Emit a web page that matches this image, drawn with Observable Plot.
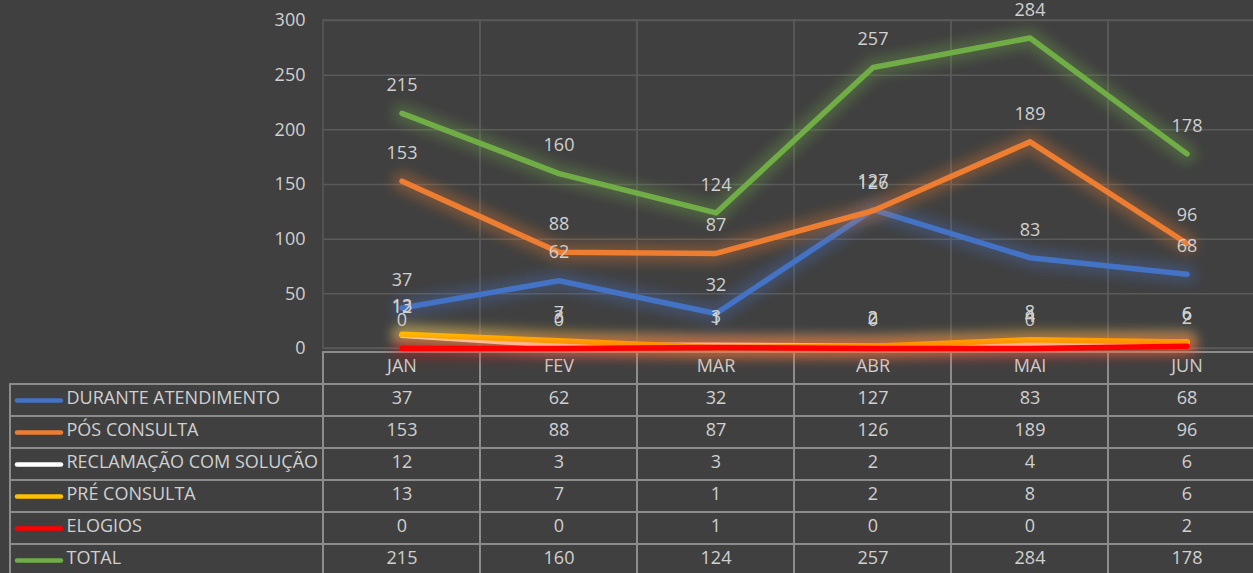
<!DOCTYPE html>
<html>
<head>
<meta charset="utf-8">
<script src="https://cdn.jsdelivr.net/npm/d3@7"></script>
<script src="https://cdn.jsdelivr.net/npm/@observablehq/plot@0.6"></script>
<style>
  html, body { margin: 0; padding: 0; background: #404040; }
  #wrap { position: relative; width: 1253px; height: 573px; overflow: hidden; background: #404040; }
  #wrap svg { position: absolute; left: 0; background: transparent; }
</style>
</head>
<body>
<div id="wrap"></div>
<script>
const months = ["JAN", "FEV", "MAR", "ABR", "MAI", "JUN"];
const seriesNames = ["DURANTE ATENDIMENTO", "PÓS CONSULTA", "RECLAMAÇÃO COM SOLUÇÃO", "PRÉ CONSULTA", "ELOGIOS", "TOTAL"];
const duranteAtendimento = [37, 62, 32, 127, 83, 68];
const posConsulta = [153, 88, 87, 126, 189, 96];
const reclamacaoComSolucao = [12, 3, 3, 2, 4, 6];
const preConsulta = [13, 7, 1, 2, 8, 6];
const elogios = [0, 0, 1, 0, 0, 2];
const total = [215, 160, 124, 257, 284, 178];
const seriesColors = ["#4472C4", "#ED7D31", "#FFFFFF", "#FFC000", "#FF0000", "#70AD47"];
const yTicks = [0, 50, 100, 150, 200, 250, 300];

const seriesValues = [duranteAtendimento, posConsulta, reclamacaoComSolucao, preConsulta, elogios, total];
const long = seriesNames.flatMap((s, i) => months.map((m, j) => ({series: s, month: m, value: seriesValues[i][j]})));

const FONT = "'Open Sans', sans-serif";
const TEXT = "#d0d0d0";
const GRID = "#5a5a5a";
const TABLE = "#8c8c8c";
const HEADER = "__header__";

const colorScale = {domain: seriesNames, range: seriesColors};
const xScale = {type: "band", domain: months, range: [323, 1265], padding: 0, axis: null};

// Chart: each series = soft halo line + solid line
const lineMarks = seriesNames.flatMap(s => {
  const d = long.filter(r => r.series === s);
  return [
    Plot.line(d, {x: "month", y: "value", stroke: "series", strokeWidth: 20, strokeOpacity: 0.3,
      strokeLinecap: "round", strokeLinejoin: "round"}),
    Plot.line(d, {x: "month", y: "value", stroke: "series", strokeWidth: 5.5,
      strokeLinecap: "round", strokeLinejoin: "round"})
  ];
});

const chart = Plot.plot({
  width: 1253, height: 362,
  marginTop: 20, marginBottom: 14, marginLeft: 323, marginRight: 0,
  style: {background: "transparent", color: TEXT, fontFamily: FONT, fontSize: "18px", overflow: "visible"},
  x: xScale,
  y: {domain: [0, 300], range: [348, 20], axis: null},
  color: colorScale,
  marks: [
    Plot.ruleY(yTicks, {stroke: GRID, strokeWidth: 1.5}),
    Plot.cell(months, {x: d => d, fill: "none", stroke: GRID, strokeWidth: 1.5}),
    Plot.text(yTicks, {y: d => d, frameAnchor: "left", dx: -18, textAnchor: "end", text: d => String(d), fill: TEXT, fontSize: 18}),
    ...lineMarks,
    Plot.text(long, {x: "month", y: "value", text: d => String(d.value), dy: -28, fill: TEXT, fontSize: 18})
  ]
});

// Data table under the chart
const dash = {draw(ctx) { ctx.moveTo(-22, 0); ctx.lineTo(22, 0); }};
const table = Plot.plot({
  width: 1253, height: 227,
  marginTop: 0, marginBottom: 0, marginLeft: 10, marginRight: -15,
  style: {background: "transparent", color: TEXT, fontFamily: FONT, fontSize: "18px", overflow: "visible"},
  x: xScale,
  y: {type: "band", domain: [HEADER, ...seriesNames], range: [3, 3 + 7 * 32.8], padding: 0, axis: null},
  color: colorScale,
  marks: [
    Plot.cell(seriesNames, {y: d => d, fill: "none", stroke: TABLE, strokeWidth: 2}),
    Plot.cell(months, {x: d => d, y: () => HEADER, fill: "none", stroke: TABLE, strokeWidth: 2}),
    Plot.cell(long, {x: "month", y: "series", fill: "none", stroke: TABLE, strokeWidth: 2}),
    Plot.text(months, {x: d => d, y: () => HEADER, text: d => d, dy: -2, fill: TEXT}),
    Plot.text(long, {x: "month", y: "series", text: d => String(d.value), dy: -2, fill: TEXT}),
    Plot.dot(seriesNames, {y: d => d, frameAnchor: "left", dx: 28.5, symbol: dash, r: 5,
      stroke: d => d, strokeWidth: 4.5, strokeLinecap: "round", fill: "none"}),
    Plot.text(seriesNames, {y: d => d, frameAnchor: "left", dx: 56, dy: -2, textAnchor: "start", text: d => d, fill: TEXT})
  ]
});

const wrap = document.getElementById("wrap");
table.style.top = "346px";
chart.style.top = "0px";
wrap.appendChild(table);
wrap.appendChild(chart);

// Blur the halo lines (every first line mark of each series pair)
const svg = d3.select(chart);
svg.insert("defs", ":first-child")
  .append("filter").attr("id", "glowBlur").attr("filterUnits", "userSpaceOnUse")
  .attr("x", 0).attr("y", -20).attr("width", 1300).attr("height", 420)
  .append("feGaussianBlur").attr("stdDeviation", 6);
svg.selectAll('g[aria-label="line"]').filter((d, i) => i % 2 === 0).attr("filter", "url(#glowBlur)");
</script>
</body>
</html>
